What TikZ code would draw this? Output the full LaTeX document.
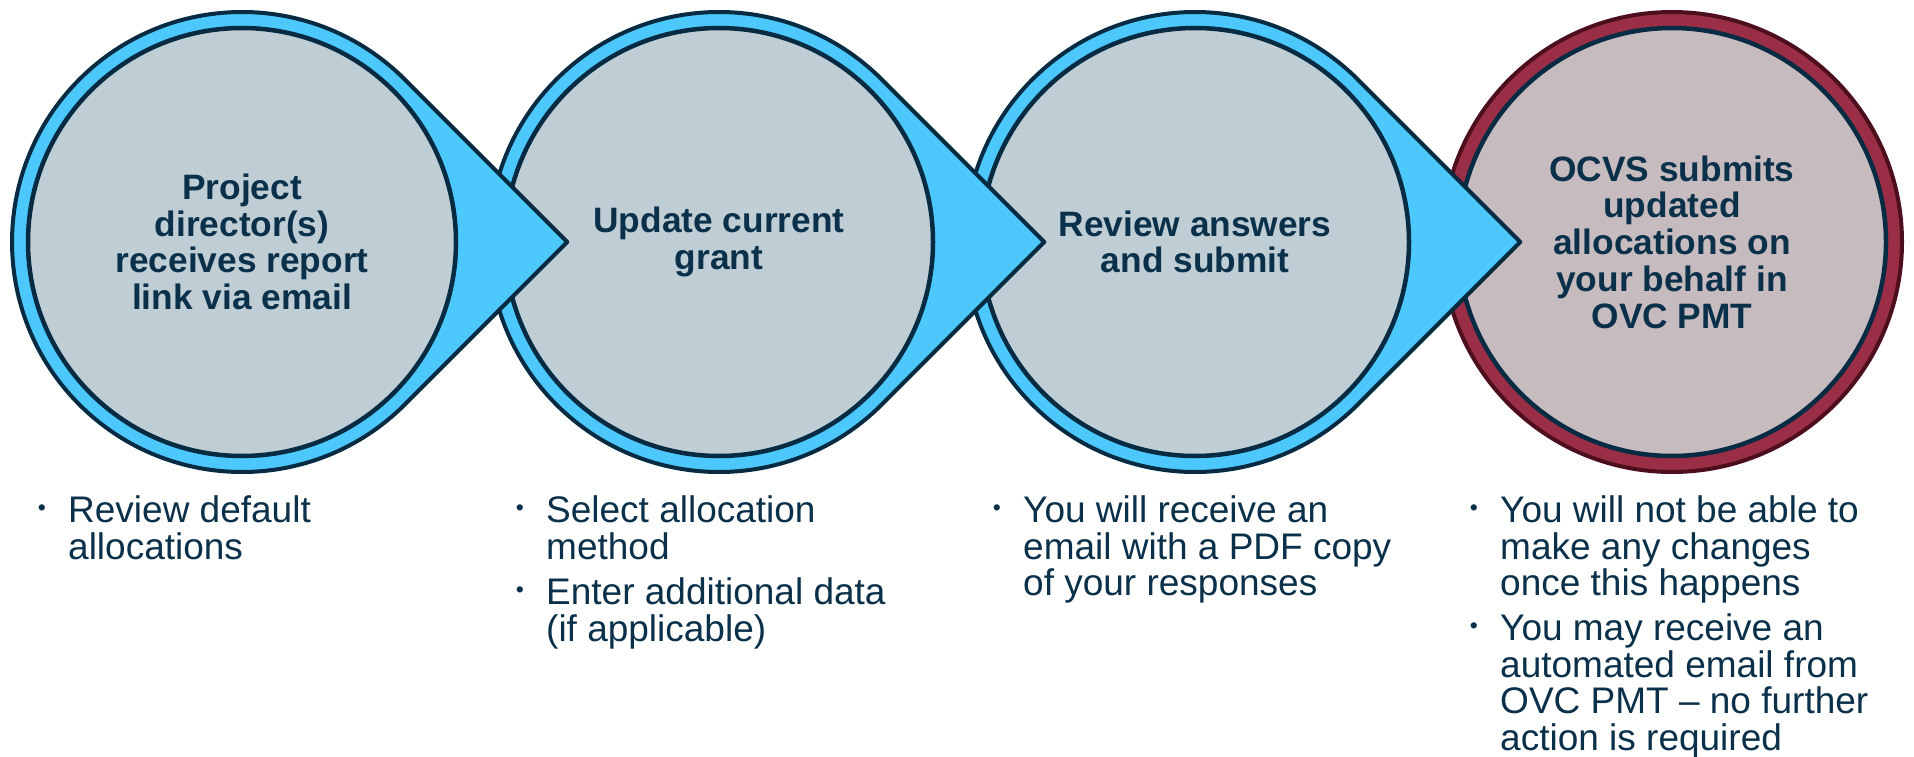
\documentclass[tikz,border=0pt]{standalone}
\usepackage{fontspec}
\setmainfont{Liberation Sans}
\definecolor{navy}{HTML}{062B42}
\definecolor{txt}{HTML}{0B3049}
\definecolor{lblue}{HTML}{4DC8FD}
\definecolor{gfill}{HTML}{BFCDD5}
\definecolor{mfill}{HTML}{C6BCC0}
\definecolor{maroon}{HTML}{9B2E47}
\definecolor{dmaroon}{HTML}{4D0F1E}
\tikzset{
  ring/.style={draw=navy, fill=lblue, line width=4pt, line join=round},
  redring/.style={draw=dmaroon, fill=maroon, line width=4pt},
  inner/.style={circle, draw=navy, line width=4.5pt, fill=gfill, minimum size=428pt, inner sep=0pt,
     align=center, text=txt, font=\bfseries\fontsize{35.3}{36.7}\selectfont},
  bt/.style={anchor=base west, inner sep=0pt, text=txt, font=\fontsize{37}{36.7}\selectfont},
  dotb/.style={anchor=base, inner sep=0pt, text=txt, font=\fontsize{23}{23}\selectfont},
}
\begin{document}
\begin{tikzpicture}[x=1pt,y=1pt]
\useasboundingbox[fill=white] (0,0) rectangle (1914,-757);
% circle 4
\draw[redring] (1672,-242) circle[radius=230];
\node[inner, fill=mfill] (c4) at (1672,-242) {OCVS submits\\updated\\allocations on\\your behalf in\\OVC PMT};
% circle 3
\coordinate (t3) at (1195+325.3,-242);
\draw[ring] (t3) -- ++(135:230) arc[start angle=45, end angle=315, radius=230] -- cycle;
\node[inner] (c3) at (1195,-242) {Review answers\\and submit};
% circle 2
\coordinate (t2) at (719+325.3,-242);
\draw[ring] (t2) -- ++(135:230) arc[start angle=45, end angle=315, radius=230] -- cycle;
\node[inner] (c2) at (719,-242) {Update current\\grant};
% circle 1
\coordinate (t1) at (242+325.3,-242);
\draw[ring] (t1) -- ++(135:230) arc[start angle=45, end angle=315, radius=230] -- cycle;
\node[inner] (c1) at (242,-242) {Project\\director(s)\\receives report\\link via email};
% column 1
\node[dotb] (d1a) at (42,-515) {•};
\node[bt] (l1a) at (68,-522) {Review default};
\node[bt] (l1b) at (68,-559) {allocations};
% column 2
\node[dotb] (d2a) at (520,-515) {•};
\node[bt] (l2a) at (546,-522) {Select allocation};
\node[bt] (l2b) at (546,-559) {method};
\node[dotb] (d2b) at (520,-597) {•};
\node[bt] (l2c) at (546,-604) {Enter additional data};
\node[bt] (l2d) at (546,-641) {(if applicable)};
% column 3
\node[dotb] (d3a) at (997,-515) {•};
\node[bt] (l3a) at (1023,-522) {You will receive an};
\node[bt] (l3b) at (1023,-559) {email with a PDF copy};
\node[bt] (l3c) at (1023,-595) {of your responses};
% column 4
\node[dotb] (d4a) at (1474,-515) {•};
\node[bt] (l4a) at (1500,-522) {You will not be able to};
\node[bt] (l4b) at (1500,-559) {make any changes};
\node[bt] (l4c) at (1500,-595) {once this happens};
\node[dotb] (d4b) at (1474,-633) {•};
\node[bt] (l4d) at (1500,-640) {You may receive an};
\node[bt] (l4e) at (1500,-677) {automated email from};
\node[bt] (l4f) at (1500,-713) {OVC PMT – no further};
\node[bt] (l4g) at (1500,-750) {action is required};
\end{tikzpicture}
\end{document}
